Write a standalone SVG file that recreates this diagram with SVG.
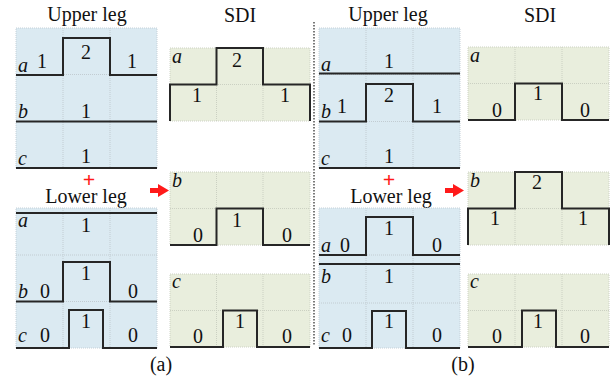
<svg xmlns="http://www.w3.org/2000/svg" width="611" height="381" viewBox="0 0 611 381" font-family="'Liberation Serif', 'Times New Roman', 'DejaVu Serif', serif">
  <style>
    .leg { fill: #dbeaf2; stroke: #c4d0d8; stroke-width: 1; stroke-dasharray: 1 1; }
    .sdi { fill: #e9eedd; stroke: #cdd2c4; stroke-width: 1; stroke-dasharray: 1 1; }
    .grid { stroke: #c2ccd2; stroke-width: 1; stroke-dasharray: 1 1; fill: none; }
    .grid2 { stroke: #cbd0c2; stroke-width: 1; stroke-dasharray: 1 1; fill: none; }
    .wave { stroke: #262626; stroke-width: 2; fill: none; }
    text { font-family: 'Liberation Serif', 'Times New Roman', 'DejaVu Serif', serif; font-size: 20px; fill: #111; }
    .n { text-anchor: middle; }
    .ph { font-style: italic; }
    .title { text-anchor: middle; }
    .plus { fill: #ff1a1a; text-anchor: middle; font-size: 22px; font-weight: bold; }
    .arrow { fill: #ff1a1a; }
    .sep { stroke: #222; stroke-width: 1.2; stroke-dasharray: 1.5 1.5; }
  </style>

  <!-- (a) upper leg -->
  <g id="upper-a">
    <text class="title" x="87" y="21">Upper leg</text>
    <rect class="leg" x="16" y="28" width="141" height="140"/>
    <path class="grid" d="M63,28V168M110,28V168M16,74.5H157M16,121.5H157"/>
    <path class="wave" d="M16,75H63V38H110V75H157M16,121.5H157M16,168H157"/>
    <text class="ph" x="18" y="72">a</text>
    <text class="n" x="42" y="68">1</text>
    <text class="n" x="86" y="59">2</text>
    <text class="n" x="132" y="68">1</text>
    <text class="ph" x="18" y="118">b</text>
    <text class="n" x="86" y="118">1</text>
    <text class="ph" x="18" y="165">c</text>
    <text class="n" x="86" y="163">1</text>
  </g>

  <!-- (a) lower leg -->
  <g id="lower-a">
    <text class="plus" x="89" y="187">+</text>
    <text class="title" x="86" y="203">Lower leg</text>
    <rect class="leg" x="16" y="208" width="141" height="140"/>
    <path class="grid" d="M63,208V348M110,208V348M16,255H157M16,301.5H157"/>
    <path class="wave" d="M16,213H157M16,301.5H63V262H110V301.5H157M16,348H69V310H103V348H157"/>
    <text class="ph" x="18" y="227">a</text>
    <text class="n" x="86" y="232">1</text>
    <text class="ph" x="18" y="298">b</text>
    <text class="n" x="45" y="298">0</text>
    <text class="n" x="86" y="280">1</text>
    <text class="n" x="133" y="298">0</text>
    <text class="ph" x="18" y="342">c</text>
    <text class="n" x="45" y="342">0</text>
    <text class="n" x="86" y="328">1</text>
    <text class="n" x="133" y="342">0</text>
  </g>

  <!-- (a) SDI -->
  <g id="sdi-a">
    <text class="title" x="240" y="22">SDI</text>
    <rect class="sdi" x="170" y="48" width="140" height="73"/>
    <path class="grid2" d="M216.5,48V121M263,48V121M170,84.5H310"/>
    <path class="wave" d="M170,121V84.5H216.5V48H263V84.5H310V121"/>
    <text class="ph" x="172" y="63">a</text>
    <text class="n" x="237" y="67">2</text>
    <text class="n" x="197" y="102">1</text>
    <text class="n" x="285" y="102">1</text>

    <rect class="sdi" x="170" y="172" width="140" height="73"/>
    <path class="grid2" d="M216.5,172V245M263,172V245M170,208.5H310"/>
    <path class="wave" d="M170,245H216.5V208.5H263V245H310"/>
    <text class="ph" x="172" y="187">b</text>
    <text class="n" x="237" y="227">1</text>
    <text class="n" x="198" y="242">0</text>
    <text class="n" x="287" y="242">0</text>

    <rect class="sdi" x="170" y="274" width="140" height="73"/>
    <path class="grid2" d="M216.5,274V347M263,274V347M170,310.5H310"/>
    <path class="wave" d="M170,347H223V310.5H257V347H310"/>
    <text class="ph" x="172" y="288">c</text>
    <text class="n" x="240" y="328">1</text>
    <text class="n" x="198" y="343">0</text>
    <text class="n" x="287" y="343">0</text>
  </g>

  <text class="n" x="161" y="371">(a)</text>

  <!-- divider between (a) and (b) -->
  <line class="sep" x1="314" y1="22" x2="314" y2="345"/>

  <!-- (b) upper leg -->
  <g id="upper-b">
    <text class="title" x="388" y="21">Upper leg</text>
    <rect class="leg" x="319" y="28" width="141" height="140"/>
    <path class="grid" d="M366,28V168M413,28V168M319,74.5H460M319,121.5H460"/>
    <path class="wave" d="M319,73.5H460M319,121.5H366V84H413V121.5H460M319,168H460"/>
    <text class="ph" x="321" y="71">a</text>
    <text class="n" x="389" y="68">1</text>
    <text class="ph" x="321" y="118">b</text>
    <text class="n" x="342" y="113">1</text>
    <text class="n" x="389" y="102">2</text>
    <text class="n" x="437" y="113">1</text>
    <text class="ph" x="321" y="165">c</text>
    <text class="n" x="389" y="163">1</text>
  </g>

  <!-- (b) lower leg -->
  <g id="lower-b">
    <text class="plus" x="389" y="187">+</text>
    <text class="title" x="391" y="203">Lower leg</text>
    <rect class="leg" x="319" y="208" width="141" height="140"/>
    <path class="grid" d="M366,208V348M413,208V348M319,255H460M319,303H460"/>
    <path class="wave" d="M319,255H366V217H413V255H460M319,264H460M319,348H372V311H406V348H460"/>
    <text class="ph" x="321" y="252">a</text>
    <text class="n" x="345" y="252">0</text>
    <text class="n" x="389" y="235">1</text>
    <text class="n" x="437" y="252">0</text>
    <text class="ph" x="321" y="283">b</text>
    <text class="n" x="389" y="283">1</text>
    <text class="ph" x="321" y="342">c</text>
    <text class="n" x="347" y="342">0</text>
    <text class="n" x="389" y="328">1</text>
    <text class="n" x="437" y="342">0</text>
  </g>

  <!-- (b) SDI -->
  <g id="sdi-b">
    <text class="title" x="540" y="22">SDI</text>
    <rect class="sdi" x="468" y="47" width="141" height="73"/>
    <path class="grid2" d="M515,47V120M562,47V120M468,83.5H609"/>
    <path class="wave" d="M468,120H515V83.5H562V120H609"/>
    <text class="ph" x="470" y="62">a</text>
    <text class="n" x="538" y="100">1</text>
    <text class="n" x="497" y="117">0</text>
    <text class="n" x="585" y="117">0</text>

    <rect class="sdi" x="468" y="172" width="141" height="73"/>
    <path class="grid2" d="M515,172V245M562,172V245M468,208.5H609"/>
    <path class="wave" d="M468,245V208.5H515V172H562V208.5H609V245"/>
    <text class="ph" x="470" y="187">b</text>
    <text class="n" x="537" y="189">2</text>
    <text class="n" x="495" y="225">1</text>
    <text class="n" x="583" y="225">1</text>

    <rect class="sdi" x="468" y="274" width="141" height="73"/>
    <path class="grid2" d="M515,274V347M562,274V347M468,310.5H609"/>
    <path class="wave" d="M468,347H522V310.5H556V347H609"/>
    <text class="ph" x="470" y="288">c</text>
    <text class="n" x="538" y="328">1</text>
    <text class="n" x="497" y="343">0</text>
    <text class="n" x="585" y="343">0</text>
  </g>

  <text class="n" x="463" y="371">(b)</text>

  <!-- red arrows from leg sums to SDI -->
  <g id="connectors">
    <path class="arrow" d="M150,188H158V184L169,190.5L158,197V193H150Z"/>
    <path class="arrow" d="M445,188H453V184L464,190.5L453,197V193H445Z"/>
  </g>
</svg>
